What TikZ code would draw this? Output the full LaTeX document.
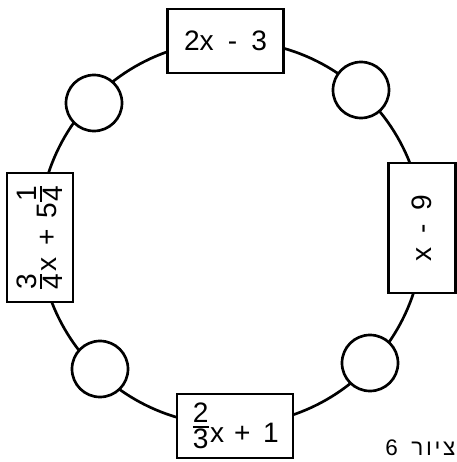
\documentclass[tikz,border=0pt]{standalone}
\usepackage{amsmath}
\usepackage{fontspec}
\setmainfont{Liberation Sans}
\newfontfamily\hebfont[Script=Hebrew,LetterSpace=12]{Liberation Sans}
\TeXXeTstate=1
\usepackage{tikz}

% stacked fraction as on the typewritten sheet
\newcommand{\typfrac}[2]{\raisebox{0.3em}{$\genfrac{}{}{1.2pt}{1}{\hbox{#1}}{\hbox{#2}}$}}

\begin{document}
\begin{tikzpicture}[x=0.025cm,y=-0.025cm,
    exbox/.style={draw,line width=2.1pt,fill=white,inner sep=0pt,
      minimum width=2.9cm,minimum height=1.6cm,font=\fontsize{20}{23}\selectfont},
    hole/.style={circle,draw,line width=1.9pt,fill=white,
      minimum size=1.4cm,inner sep=0pt}]
    \useasboundingbox (0,0) rectangle (456,462);
    % Ring
    \coordinate (centre) at (231,233);
    \draw[line width=1.9pt] (centre) circle[radius=4.8cm];
    % Expression boxes
    \node[exbox] (top) at (225.5,41) {2x\hspace{.5em}-\hspace{.5em}3};
    \node[exbox] (bottom) at (235,426) {\typfrac{2}{3}x\hspace{.35em}+\hspace{.45em}1};
    \node[exbox,rotate=90,minimum width=3.225cm,minimum height=1.65cm] (left) at (40,237.5)
      {\typfrac{3}{4}x\hspace{.45em}+\hspace{.35em}5\typfrac{1}{4}};
    \node[exbox,rotate=90,minimum width=3.25cm,minimum height=1.675cm] (right) at (422,228)
      {x\hspace{.5em}-\hspace{.5em}9};
    % Empty circles
    \node[hole] (tl) at (94,103) {};
    \node[hole] (tr) at (361,90) {};
    \node[hole] (bl) at (100,369) {};
    \node[hole] (br) at (370,363) {};
    % Caption
    \node[anchor=base west,inner sep=0pt,font=\hebfont\fontsize{16}{18}\selectfont] (caption)
      at (385,455) {\beginR ציור\hspace{.6em}6\endR};
\end{tikzpicture}
\end{document}
